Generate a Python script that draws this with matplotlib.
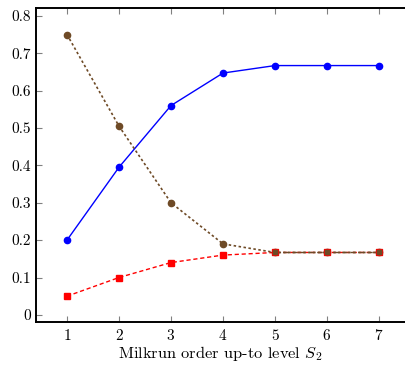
import matplotlib
matplotlib.use("Agg")
import matplotlib.pyplot as plt

plt.rcParams['font.family'] = 'cmr10'
plt.rcParams['mathtext.fontset'] = 'cm'
plt.rcParams['axes.formatter.use_mathtext'] = True

# data
levels = [1, 2, 3, 4, 5, 6, 7]
blue_vals = [0.2, 0.395, 0.56, 0.647, 0.667, 0.667, 0.667]
brown_vals = [0.75, 0.505, 0.30, 0.19, 0.167, 0.167, 0.167]
red_vals = [0.05, 0.1, 0.14, 0.16, 0.167, 0.167, 0.167]
x_ticks = [1, 2, 3, 4, 5, 6, 7]
y_ticks = [0, 0.1, 0.2, 0.3, 0.4, 0.5, 0.6, 0.7, 0.8]
y_labels = ['0', '0.1', '0.2', '0.3', '0.4', '0.5', '0.6', '0.7', '0.8']

brown = '#6e4a26'

fig = plt.figure(figsize=(4.05, 3.65), dpi=100)
ax = fig.add_axes([36 / 405, 43 / 365, 369 / 405, 314 / 365])

ax.plot(levels, blue_vals, '-', color='blue', lw=1.0, marker='o', ms=4.5, zorder=3)
ax.plot(levels, red_vals, ls=(0, (3, 2)), color='red', lw=1.0, marker='s', ms=4.5, zorder=3)
ax.plot(levels, brown_vals, ls=(0, (1.5, 1.5)), color=brown, lw=1.2, marker='o', ms=4.5, zorder=4)
# brown squares drawn over the common tail
ax.plot(levels[4:], brown_vals[4:], ls=(0, (4, 2)), color=brown, lw=1.0, marker='s', ms=4.5,
        mec='red', mew=0.5, zorder=5)

ax.set_xlim(0.404, 7.5)
ax.set_ylim(-0.019, 0.821)
ax.set_xticks(x_ticks)
ax.set_yticks(y_ticks)
ax.set_yticklabels(y_labels)
ax.tick_params(direction='in', color='gray', length=4, width=0.8, labelsize=11,
               top=True, right=False)
ax.tick_params(axis='x', pad=4)
for s in ['left', 'bottom', 'top']:
    ax.spines[s].set_linewidth(1.4)
ax.spines['right'].set_visible(False)

ax.set_xlabel('Milkrun order up-to level $S_2$', fontsize=11.8, labelpad=1)

fig.savefig('out.png', dpi=100)
